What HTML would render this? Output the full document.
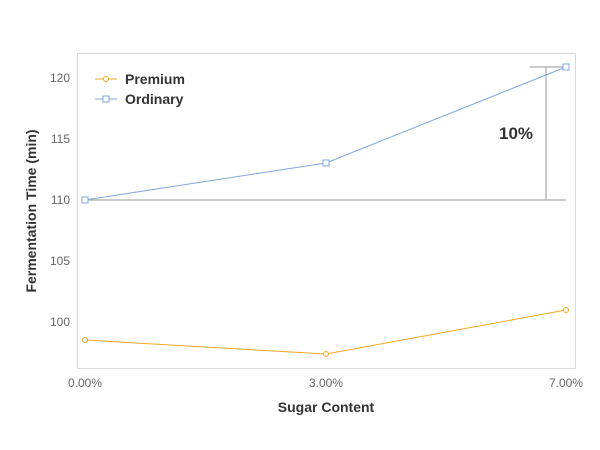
<!DOCTYPE html>
<html><head><style>body{margin:0;background:#fff}svg{display:block}text{font-family:"Liberation Sans",sans-serif}</style></head>
<body>
<svg width="600" height="450" viewBox="0 0 600 450">
<rect x="77.5" y="53.5" width="498" height="315" fill="none" stroke="#d9d9d9" stroke-width="1"/>
<g fill="#666" font-size="12" text-anchor="end">
<text x="70" y="82">120</text><text x="70" y="143">115</text><text x="70" y="204">110</text><text x="70" y="265">105</text><text x="70" y="326">100</text>
</g>
<g fill="#666" font-size="12" text-anchor="middle"><text x="85" y="387">0.00%</text><text x="326" y="387">3.00%</text><text x="566" y="387">7.00%</text></g>
<text x="326" y="412" text-anchor="middle" font-size="14" font-weight="bold" fill="#333">Sugar Content</text>
<text transform="translate(36,211) rotate(-90)" text-anchor="middle" font-size="14" font-weight="bold" fill="#333">Fermentation Time (min)</text>
<g stroke="#aaa" stroke-width="1.2"><line x1="85" x2="566" y1="200" y2="200"/><line x1="546" x2="546" y1="67" y2="200"/><line x1="530" x2="566" y1="67" y2="67"/></g>
<text x="516" y="139" text-anchor="middle" font-size="17" font-weight="bold" fill="#333">10%</text>
<polyline points="85,200 326,163 566,67" fill="none" stroke="#7fa8dc" stroke-width="1"/>
<g fill="#fff" stroke="#7fa8dc"><rect x="82" y="197" width="6" height="6"/><rect x="323" y="160" width="6" height="6"/><rect x="563" y="64" width="6" height="6"/></g>
<polyline points="85,340 326,354 566,310" fill="none" stroke="#f5a623" stroke-width="1"/>
<g fill="#fff" stroke="#f5a623"><circle cx="85" cy="340" r="2.5"/><circle cx="326" cy="354" r="2.5"/><circle cx="566" cy="310" r="2.5"/></g>
<line x1="95" x2="117" y1="79" y2="79" stroke="#f5a623"/><circle cx="106" cy="79" r="2.5" fill="#fff" stroke="#f5a623"/>
<line x1="95" x2="117" y1="99" y2="99" stroke="#7fa8dc"/><rect x="103" y="96" width="6" height="6" fill="#fff" stroke="#7fa8dc"/>
<g font-size="14" font-weight="bold" fill="#333"><text x="125" y="84">Premium</text><text x="125" y="104">Ordinary</text></g>
</svg>
</body></html>
